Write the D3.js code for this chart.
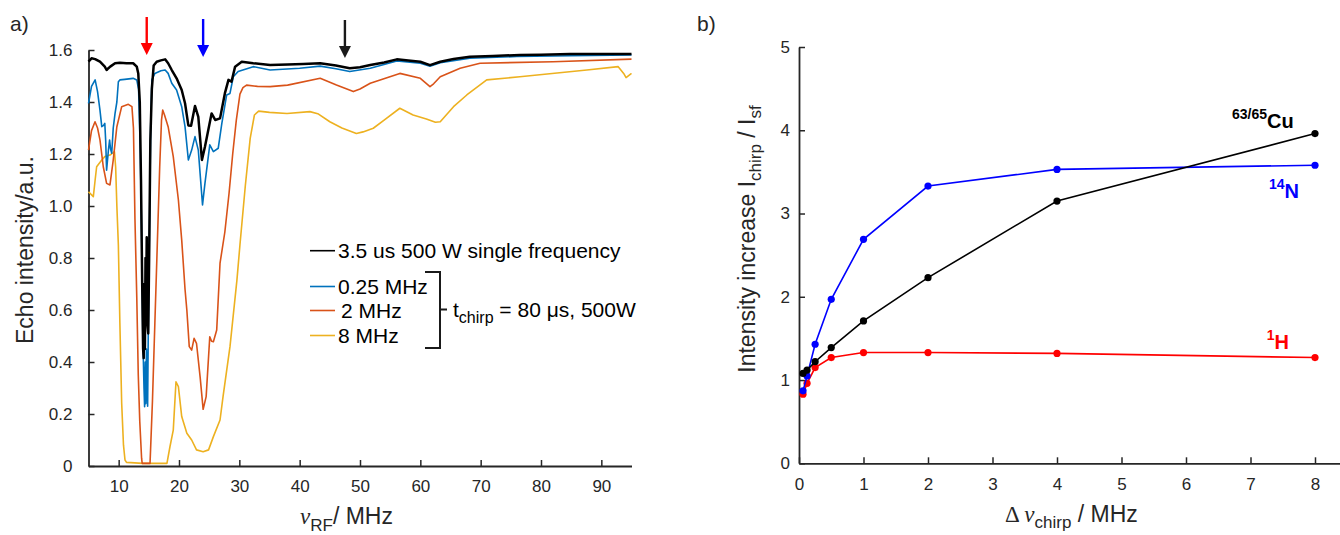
<!DOCTYPE html>
<html><head><meta charset="utf-8">
<script src="https://cdn.jsdelivr.net/npm/d3@7"></script>
<style>
body{margin:0;background:#fff}
svg{display:block;background:#fff;font-family:"Liberation Sans",Arial,sans-serif}
</style>
</head><body>
<svg id="c" width="1340" height="535"></svg>
<script>
// ---------------- DATA: panel a ----------------
const sfFreq = [5.0,5.5,6.1,6.9,7.7,8.0,8.3,8.6,9.4,10.2,11.3,12.4,13.0,13.25,13.5,13.7,13.9,14.05,14.15,14.25,14.35,14.45,14.55,14.65,14.75,14.9,15.05,15.25,15.5,15.8,16.3,17.0,17.7,18.2,18.8,19.6,20.45,21.0,21.55,22.0,22.65,23.2,23.8,24.3,25.4,26.0,26.8,27.6,28.2,28.7,29.3,30.4,32.3,35.1,38.0,40.6,43.4,46.0,48.3,50.0,51.7,54.0,56.1,58.0,60.0,61.6,63.3,65.5,68.2,72.0,76.5,80.0,84.8,90.0,95.0];
const sfVal  = [1.555,1.568,1.565,1.555,1.536,1.523,1.530,1.536,1.549,1.551,1.549,1.549,1.536,1.510,1.400,1.100,0.700,0.450,0.415,0.700,0.450,0.800,0.600,0.880,0.550,0.510,0.800,1.250,1.450,1.540,1.555,1.560,1.564,1.549,1.523,1.491,1.446,1.395,1.310,1.309,1.385,1.343,1.177,1.228,1.356,1.331,1.337,1.433,1.485,1.478,1.536,1.555,1.549,1.542,1.544,1.546,1.549,1.540,1.530,1.534,1.542,1.552,1.564,1.560,1.555,1.542,1.555,1.565,1.574,1.577,1.581,1.582,1.585,1.585,1.585];

const c025Freq = [5.0,5.5,6.1,6.5,6.9,7.2,7.5,7.7,7.85,8.0,8.3,8.5,8.65,8.85,9.1,9.4,9.7,9.95,10.2,11.0,12.4,13.0,13.3,13.6,13.8,14.0,14.2,14.3,14.4,14.5,14.6,14.7,14.8,14.9,15.1,15.3,15.5,16.0,17.0,17.7,18.2,18.8,19.6,20.45,21.0,21.55,22.1,22.65,23.2,23.9,24.3,25.1,25.7,26.5,27.1,27.9,28.45,29.0,29.8,32.3,35.1,40.0,43.4,46.0,48.3,51.7,56.1,60.0,61.6,63.3,68.2,76.0,85.0,95.0];
const c025Val  = [1.395,1.460,1.485,1.440,1.369,1.305,1.310,1.318,1.250,1.138,1.215,1.254,1.220,1.203,1.300,1.356,1.400,1.478,1.485,1.487,1.491,1.485,1.450,1.200,0.900,0.500,0.300,0.228,0.400,0.240,0.450,0.300,0.230,0.500,0.900,1.300,1.485,1.510,1.520,1.523,1.510,1.472,1.446,1.382,1.305,1.177,1.215,1.267,1.215,1.004,1.087,1.235,1.209,1.222,1.318,1.427,1.433,1.497,1.517,1.536,1.523,1.530,1.538,1.528,1.517,1.530,1.558,1.549,1.538,1.551,1.568,1.575,1.578,1.581];

const c2Freq = [5.0,5.5,6.08,6.5,6.9,7.45,8.0,8.56,9.1,9.7,10.5,11.6,12.2,12.45,12.7,13.0,13.25,13.5,13.8,13.9,15.2,15.6,16.0,16.4,16.8,17.1,17.3,17.6,18.2,19.05,19.9,20.45,21.0,21.3,21.7,22.1,22.5,22.9,23.5,24.0,24.5,25.1,25.4,25.7,26.25,26.8,27.6,28.3,28.9,29.5,30.1,30.6,31.2,33.0,35.1,38.0,43.4,46.1,48.9,50.0,51.7,56.6,60.0,61.6,62.2,63.3,66.6,69.9,82.0,95.0];
const c2Val  = [1.215,1.290,1.324,1.300,1.254,1.151,1.087,1.081,1.177,1.305,1.382,1.391,1.382,1.300,0.950,0.650,0.350,0.170,0.030,0.010,0.010,0.250,0.550,0.850,1.150,1.330,1.369,1.350,1.305,1.190,1.023,0.869,0.680,0.600,0.459,0.446,0.491,0.472,0.343,0.218,0.267,0.497,0.480,0.478,0.523,0.780,0.900,1.050,1.200,1.330,1.430,1.455,1.465,1.460,1.459,1.465,1.491,1.465,1.440,1.450,1.472,1.510,1.491,1.459,1.470,1.497,1.530,1.549,1.555,1.565];

const c8Freq = [5.0,5.8,6.1,6.35,7.2,7.7,8.56,9.3,9.5,9.7,9.95,10.2,10.5,10.8,11.05,11.3,14.0,18.0,18.5,19.05,19.5,19.9,20.45,21.3,22.1,22.9,24.0,24.9,25.7,26.8,27.3,28.45,29.6,30.1,31.0,31.8,32.5,33.2,35.0,37.9,41.7,43.0,45.0,47.0,49.4,50.5,52.2,54.0,56.6,58.8,61.0,62.5,63.3,65.5,67.7,71.0,76.5,87.6,92.8,93.7,94.1,95.0];
const c8Val  = [1.055,1.036,1.100,1.151,1.177,1.190,1.196,1.209,1.150,1.000,0.850,0.550,0.241,0.080,0.023,0.014,0.010,0.010,0.074,0.138,0.324,0.305,0.190,0.126,0.100,0.062,0.055,0.062,0.113,0.177,0.267,0.459,0.715,0.850,1.080,1.260,1.350,1.365,1.360,1.356,1.363,1.355,1.324,1.300,1.279,1.285,1.299,1.330,1.376,1.350,1.335,1.322,1.324,1.382,1.427,1.485,1.497,1.523,1.536,1.510,1.494,1.510];

const xTicksA = [10,20,30,40,50,60,70,80,90];
const yTicksA = [0,0.2,0.4,0.6,0.8,1.0,1.2,1.4,1.6];
const arrowFreq = [14.65,24.0,47.5];
const arrowColor = ["#ff0000","#0000ff","#1a1a1a"];
const legendLabels = ["3.5 us 500 W single frequency","0.25 MHz","2 MHz","8 MHz"];
const seriesColors = ["#000000","#0072BD","#D95319","#EDB120"];

// ---------------- DATA: panel b ----------------
const chirpWidth = [0.0625,0.125,0.25,0.5,1,2,4,8];
const cuVal = [1.08,1.12,1.22,1.39,1.71,2.23,3.15,3.96];
const nVal  = [0.87,1.05,1.43,1.97,2.69,3.33,3.53,3.58];
const hVal  = [0.83,0.96,1.15,1.27,1.33,1.33,1.32,1.27];
const xTicksB = [0,1,2,3,4,5,6,7,8];
const yTicksB = [0,1,2,3,4,5];

// ---------------- DRAW ----------------
const svg = d3.select("#c");
const AX = "#262626";
const SANS = '"Liberation Sans",Arial,sans-serif';
const SERIF = '"Liberation Serif","Times New Roman",serif';

function styleAxis(g, fs){
  g.selectAll(".domain").attr("stroke", AX).attr("stroke-width", 1.8);
  g.selectAll(".tick line").attr("stroke", AX).attr("stroke-width", 1.5);
  g.selectAll(".tick text").attr("font-size", fs).attr("fill", AX).attr("font-family", SANS);
}

// ----- Panel a -----
const xA = d3.scaleLinear().domain([5,95]).range([88.5,631.5]);
const yA = d3.scaleLinear().domain([0,1.6]).range([466,50]);

const gxA = svg.append("g").attr("transform","translate(0,466)")
  .call(d3.axisBottom(xA).tickValues(xTicksA).tickSizeInner(-6).tickSizeOuter(0).tickPadding(14));
styleAxis(gxA, 17);
const gyA = svg.append("g").attr("transform","translate(88.5,0)")
  .call(d3.axisLeft(yA).tickValues(yTicksA).tickSizeInner(-6).tickSizeOuter(0).tickPadding(16)
    .tickFormat(d => d === 0 ? "0" : d.toFixed(1)));
styleAxis(gyA, 17);

const lineA = d3.line().x(d => xA(d[0])).y(d => yA(d[1]));
const seriesA = [
  {f:c8Freq, v:c8Val, c:seriesColors[3], w:1.6},
  {f:c2Freq, v:c2Val, c:seriesColors[2], w:1.6},
  {f:c025Freq, v:c025Val, c:seriesColors[1], w:1.6},
  {f:sfFreq, v:sfVal, c:seriesColors[0], w:2.5}
];
seriesA.forEach(s => {
  svg.append("path").datum(d3.zip(s.f, s.v))
    .attr("d", lineA).attr("fill","none").attr("stroke", s.c)
    .attr("stroke-width", s.w).attr("stroke-linejoin","round");
});

// arrows
arrowFreq.forEach((f,i) => {
  const x = xA(f);
  const top = 17 + (i>0 ? 2 : 0) + (i===2 ? 1 : 0);
  const headTop = top + 26, headBot = top + 38;
  svg.append("line").attr("x1",x).attr("x2",x).attr("y1",top).attr("y2",headTop+1)
    .attr("stroke",arrowColor[i]).attr("stroke-width",2.4);
  svg.append("path").attr("d",`M${x-6},${headTop}L${x+6},${headTop}L${x},${headBot}Z`)
    .attr("fill",arrowColor[i]);
});

// legend
const legY = [250.7, 286.5, 310.5, 335.5];
legendLabels.forEach((lab,i) => {
  svg.append("line").attr("x1",310).attr("x2",335).attr("y1",legY[i]).attr("y2",legY[i])
    .attr("stroke",seriesColors[i]).attr("stroke-width", 1.6);
  svg.append("text").attr("x", i===2 ? 341 : 338).attr("y",legY[i]).attr("dy","0.35em")
    .attr("font-family",SANS).attr("font-size",21).attr("fill","#000").text(lab);
});
// bracket
svg.append("path").attr("d","M425,272H440V348H425M440,309.5H447")
  .attr("fill","none").attr("stroke","#1a1a1a").attr("stroke-width",2);
const tt = svg.append("text").attr("x",453).attr("y",317).attr("font-family",SANS).attr("font-size",21).attr("fill","#000");
tt.append("tspan").text("t");
tt.append("tspan").attr("font-size",16).attr("dy",6).text("chirp");
tt.append("tspan").attr("dy",-6).text(" = 80 μs, 500W");

// axis labels a
svg.append("text").attr("transform","translate(33,250) rotate(-90)").attr("font-family",SANS)
  .attr("text-anchor","middle").attr("font-size",23).attr("fill",AX).text("Echo intensity/a.u.");
const xlA = svg.append("text").attr("x",300).attr("y",524).attr("font-family",SANS).attr("font-size",23).attr("fill",AX);
xlA.append("tspan").attr("font-family",SERIF).attr("font-style","italic").text("ν");
xlA.append("tspan").attr("font-size",17).attr("dy",7).text("RF");
xlA.append("tspan").attr("dy",-7).text("/ MHz");

svg.append("text").attr("x",10).attr("y",31).attr("font-family",SANS).attr("font-size",21).attr("fill",AX).text("a)");

// ----- Panel b -----
const xB = d3.scaleLinear().domain([0,8.4]).range([799,1340.8]);
const yB = d3.scaleLinear().domain([0,5]).range([463.3,47]);

const gxB = svg.append("g").attr("transform","translate(0,463.3)")
  .call(d3.axisBottom(xB).tickValues(xTicksB).tickSizeInner(-6).tickSizeOuter(0).tickPadding(14.5).tickFormat(d3.format("d")));
styleAxis(gxB, 17);
const gyB = svg.append("g").attr("transform","translate(799,0)")
  .call(d3.axisLeft(yB).tickValues(yTicksB).tickSizeInner(-6).tickSizeOuter(0).tickPadding(9).tickFormat(d3.format("d")));
styleAxis(gyB, 17);

const lineB = d3.line().x(d => xB(d[0])).y(d => yB(d[1]));
const seriesB = [
  {v:hVal, c:"#ff0000"},
  {v:nVal, c:"#0000ff"},
  {v:cuVal, c:"#000000"}
];
seriesB.forEach(s => {
  const pts = d3.zip(chirpWidth, s.v);
  svg.append("path").datum(pts).attr("d", lineB).attr("fill","none")
    .attr("stroke", s.c).attr("stroke-width",1.6);
  svg.append("g").selectAll("circle").data(pts).join("circle")
    .attr("cx", d => xB(d[0])).attr("cy", d => yB(d[1])).attr("r",3.6).attr("fill", s.c);
});

// series labels b
function isoLabel(x, y, sup, main, color){
  const t = svg.append("text").attr("x",x).attr("y",y).attr("font-family",SANS)
    .attr("font-weight","bold").attr("fill",color);
  t.append("tspan").attr("font-size",14).attr("dy",-9).attr("fill",color).text(sup);
  t.append("tspan").attr("font-size",20).attr("dy",9).attr("fill",color).text(main);
}
isoLabel(1232, 127.7, "63/65", "Cu", "#000000");
isoLabel(1269, 198.3, "14", "N", "#0000ff");
isoLabel(1266.7, 349.3, "1", "H", "#ff0000");

// axis labels b
const ylB = svg.append("text").attr("transform","translate(755,239) rotate(-90)").attr("font-family",SANS)
  .attr("text-anchor","middle").attr("font-size",23).attr("fill",AX);
ylB.append("tspan").text("Intensity increase I");
ylB.append("tspan").attr("font-size",17).attr("dy",6).text("chirp");
ylB.append("tspan").attr("dy",-6).text(" / I");
ylB.append("tspan").attr("font-size",17).attr("dy",6).text("sf");

const xlB = svg.append("text").attr("x",1005).attr("y",521.7).attr("font-family",SANS).attr("font-size",23).attr("fill",AX);
xlB.append("tspan").attr("font-family",SERIF).text("Δ ");
xlB.append("tspan").attr("font-family",SERIF).attr("font-style","italic").text("ν");
xlB.append("tspan").attr("font-size",17).attr("dy",6).text("chirp");
xlB.append("tspan").attr("dy",-6).text(" / MHz");

svg.append("text").attr("x",697).attr("y",31).attr("font-family",SANS).attr("font-size",21).attr("fill",AX).text("b)");
</script>
</body></html>
